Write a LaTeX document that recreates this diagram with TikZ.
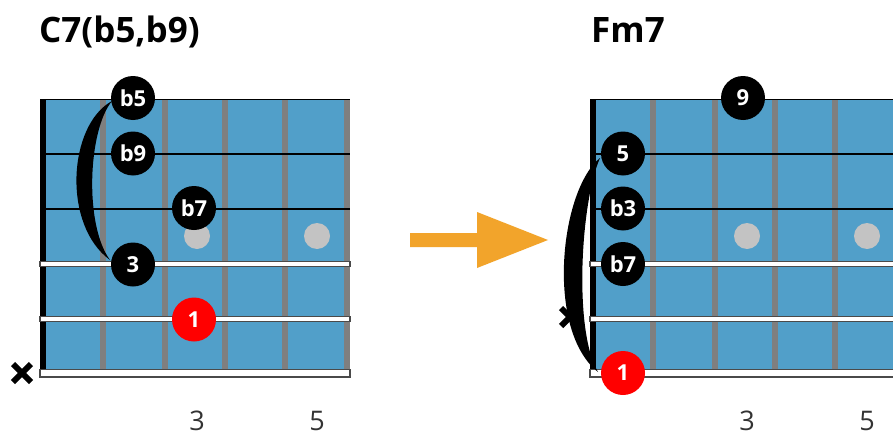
\documentclass[tikz,border=0pt]{standalone}
\usepackage{fontspec}
\usetikzlibrary{calc}
\setmainfont{Open Sans}
\definecolor{fretblue}{HTML}{519FC9}
\definecolor{fretgray}{HTML}{7F7F7F}
\definecolor{dotgray}{HTML}{C3C3C3}
\definecolor{strdark}{HTML}{4A4A4A}
\definecolor{arroworange}{HTML}{F2A42B}
\definecolor{numgray}{HTML}{333333}
\newcommand{\flt}{b}
\begin{document}
\begin{tikzpicture}[x=1pt,y=-1pt,
  note/.style={circle, fill=black, text=white, font=\bfseries\fontsize{22}{22}\selectfont, minimum size=44pt, inner sep=0pt},
  rootnote/.style={note, fill=red},
  marker/.style={circle, fill=dotgray, minimum size=26pt, inner sep=0pt},
  fretnum/.style={font=\fontsize{27}{27}\selectfont, text=numgray},
  chordtitle/.style={font=\bfseries\fontsize{35}{35}\selectfont, anchor=base west, inner sep=0pt},
  fretline/.style={draw=fretgray, line width=6pt},
  thinstr/.style={draw=black, line width=1.4pt},
  woundstr/.style={fill=white, draw=strdark, line width=1.1pt},
  mute/.style={draw=black, line width=6pt},
  bracket/.style={fill=black}
]
\useasboundingbox (0,0) rectangle (893,436);
\fill[white] (0,0) rectangle (893,436);

% titles
\node[chordtitle] (t1) at (39,42) {C7(b5,b9)};
\node[chordtitle] (t2) at (591,42) {Fm7};

% fretboards
\foreach \ox in {0,550}{
  \fill[fretblue] (\ox+40,99) rectangle (\ox+350,371);
  \foreach \fx in {103,165,225,285,347}{
    \draw[fretline] (\ox+\fx,99) -- (\ox+\fx,371);
  }
  \fill[black] (\ox+40,99) rectangle (\ox+46,371);
  \node[marker] at (\ox+197,236) {};
  \node[marker] at (\ox+317,236) {};
  \draw[thinstr] (\ox+40,99.5) -- (\ox+350,99.5);
  \draw[thinstr] (\ox+40,154) -- (\ox+350,154);
  \draw[thinstr] (\ox+40,209) -- (\ox+350,209);
  \filldraw[woundstr] (\ox+40,261.5) rectangle (\ox+350,266.5);
  \filldraw[woundstr] (\ox+40,316.5) rectangle (\ox+350,321.5);
  \filldraw[woundstr] (\ox+40,369.5) rectangle (\ox+350,377);
  \node[fretnum] at (\ox+197,421) {3};
  \node[fretnum] at (\ox+317,421) {5};
}

% mute marks
\coordinate (lx) at (22,373);
\draw[mute] ($(lx)+(-9,-9)$) -- ($(lx)+(9,9)$) ($(lx)+(-9,9)$) -- ($(lx)+(9,-9)$);
\coordinate (rx) at (570,317);
\draw[mute] ($(rx)+(-9,-9)$) -- ($(rx)+(9,9)$) ($(rx)+(-9,9)$) -- ($(rx)+(9,-9)$);

% brackets
\coordinate (lbt) at (112,101);
\coordinate (lbb) at (110,260);
\fill[bracket] (lbt) .. controls (68,125) and (62,225) .. (lbb)
  .. controls (84,225) and (88,130) .. (lbt) -- cycle;
\coordinate (rbt) at (600,158);
\coordinate (rbb) at (598,372);
\fill[bracket] (rbt) .. controls (560,190) and (545,330) .. (rbb)
  .. controls (573,330) and (581,200) .. (rbt) -- cycle;

% left notes
\node[note] (lb5) at (133,98) {\flt5};
\node[note] (lb9) at (133,153.5) {\flt9};
\node[note] (lb7) at (194,208) {\flt7};
\node[note] (l3) at (133,264.5) {3};
\node[rootnote] (l1) at (194,319.5) {1};

% right notes
\node[note] (r9) at (743,98) {9};
\node[note] (r5) at (623,153.5) {5};
\node[note] (rb3) at (623,208.5) {\flt3};
\node[note] (rb7) at (623,264) {\flt7};
\node[rootnote] (r1) at (623,373) {1};

% arrow
\fill[arroworange] (410,233) -- (477,233) -- (477,212) -- (548,240) -- (477,268) -- (477,247) -- (410,247) -- cycle;
\end{tikzpicture}
\end{document}
